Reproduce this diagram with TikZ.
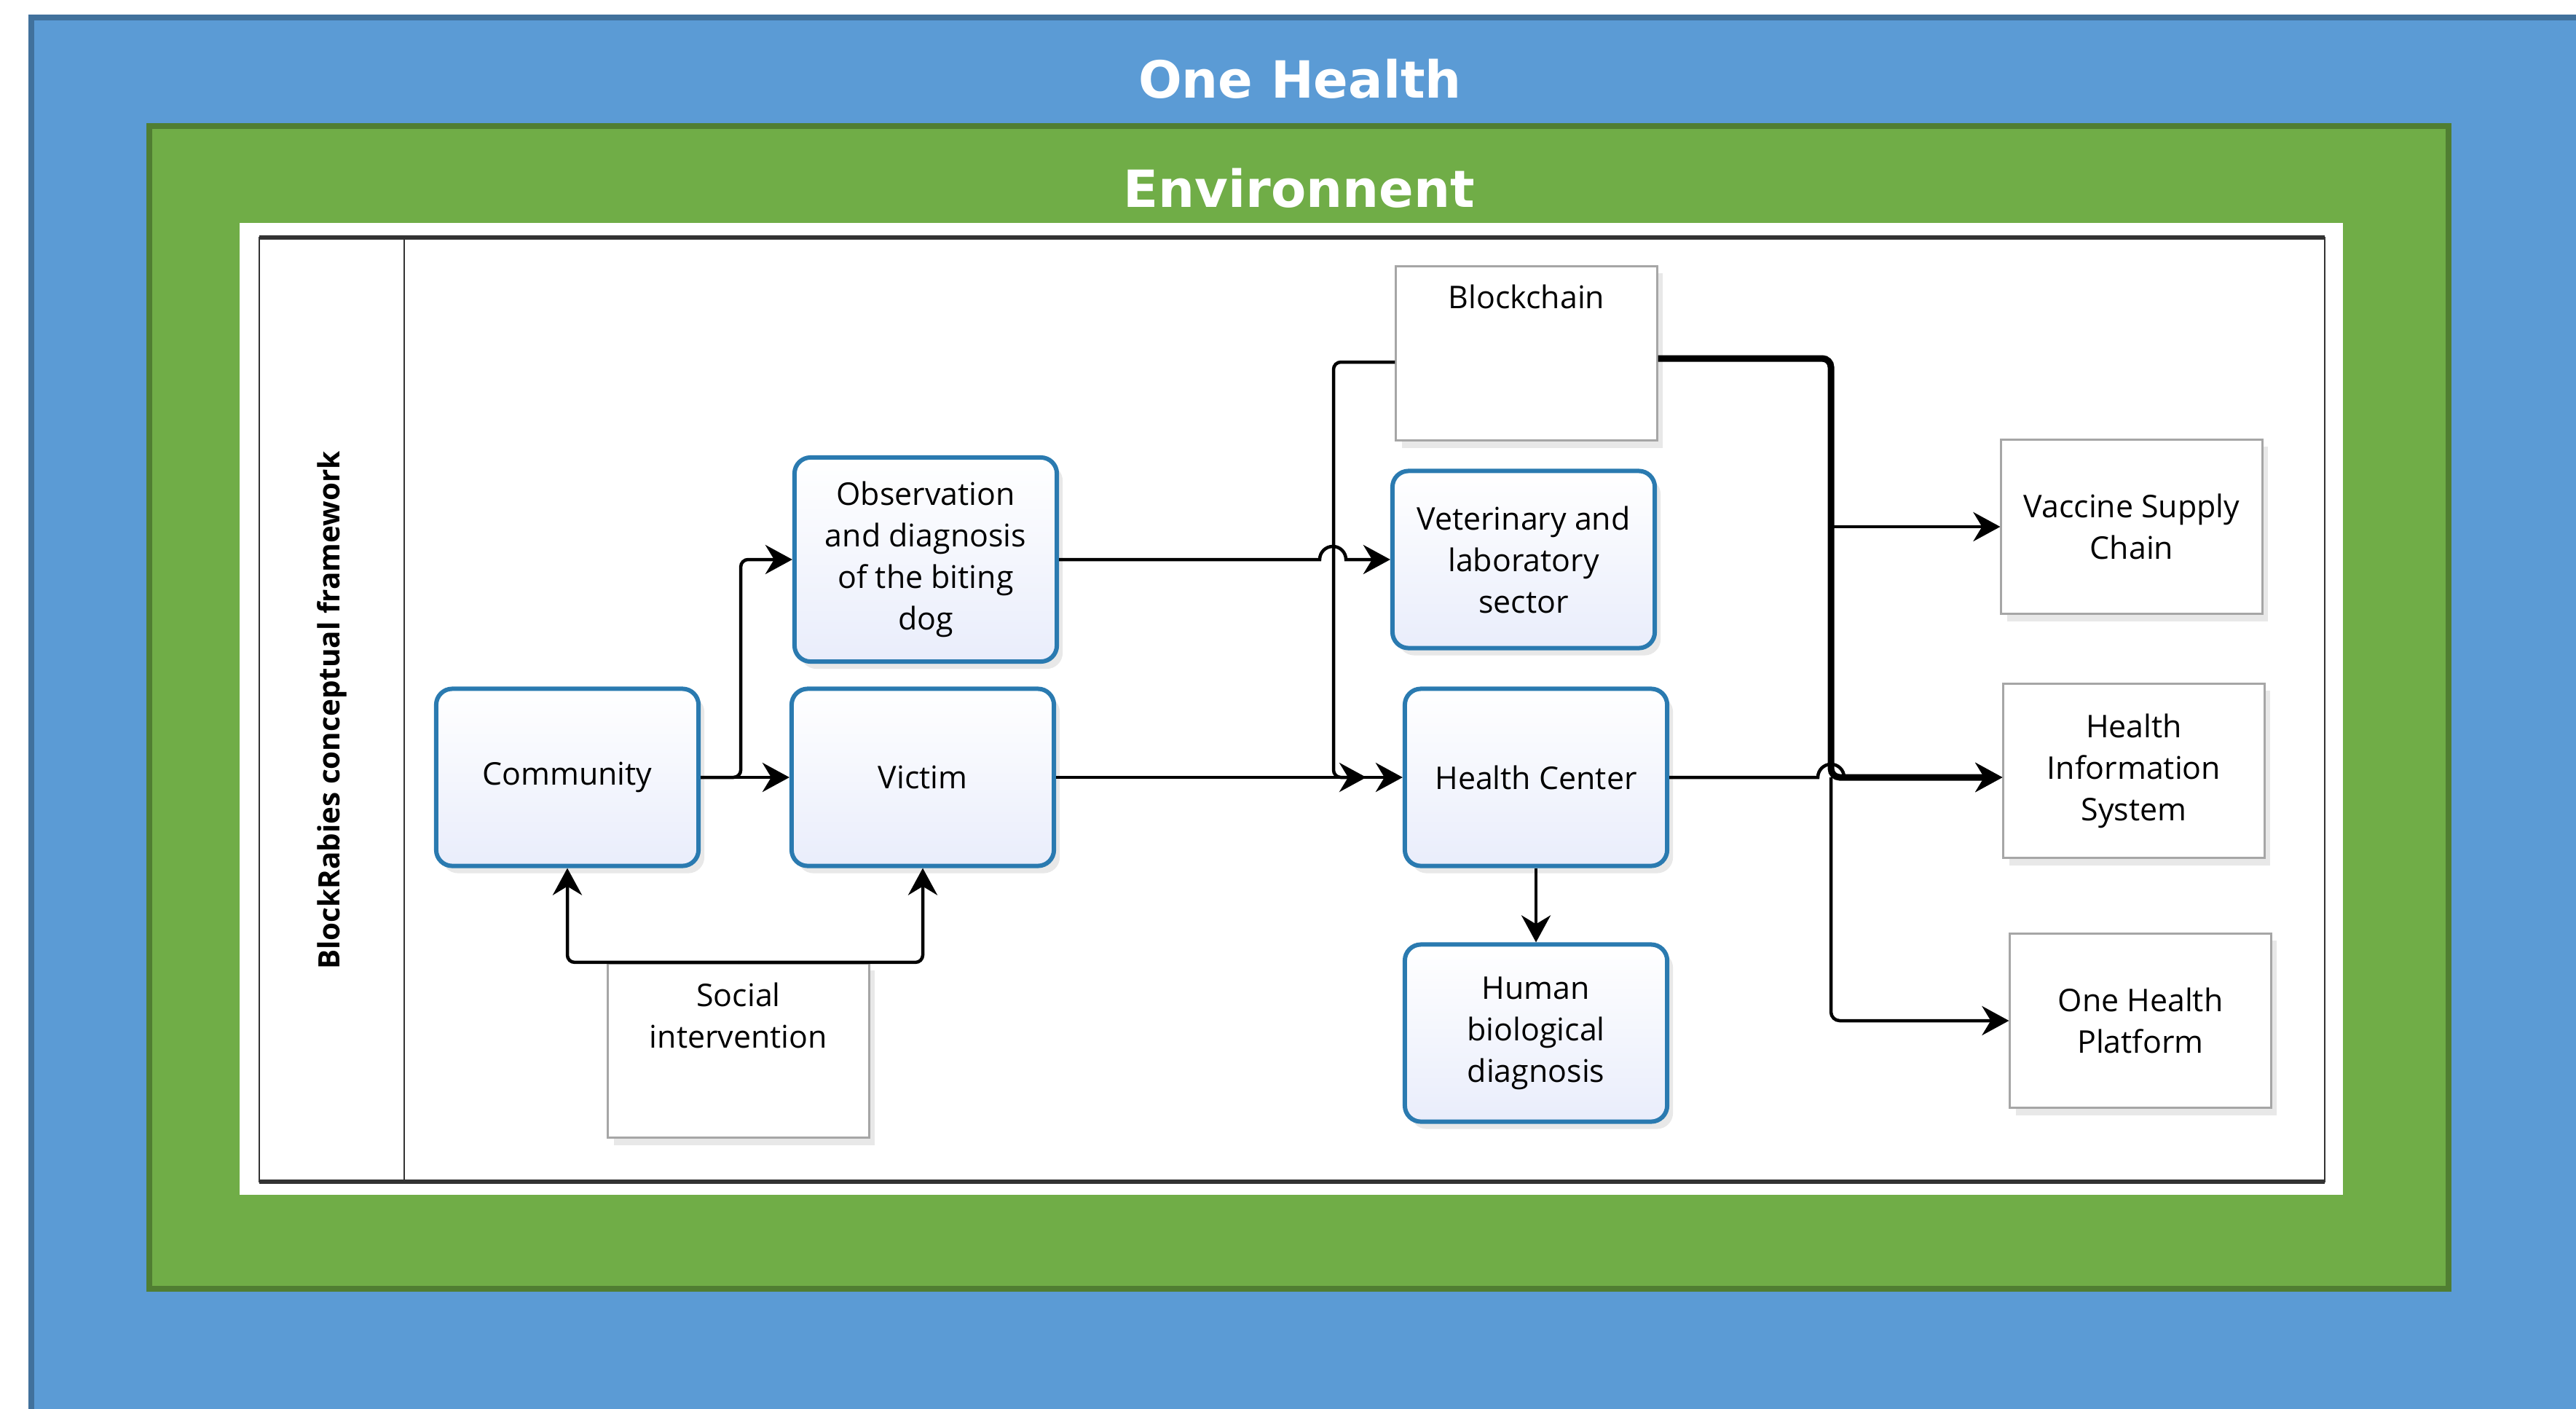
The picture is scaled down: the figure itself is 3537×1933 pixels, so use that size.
\documentclass[tikz,border=0pt]{standalone}
\usepackage{fontspec}
\setmainfont{Open Sans}
\newfontfamily\titre{DejaVu Sans}
\usetikzlibrary{arrows.meta,shadows}
\definecolor{bleufond}{HTML}{5B9BD5}
\definecolor{bordbleu}{HTML}{41719C}
\definecolor{vert}{HTML}{70AD47}
\definecolor{bordvert}{HTML}{507E32}
\definecolor{bordnoeud}{HTML}{2A7AB0}
\definecolor{lavande}{HTML}{E9EDFB}
\definecolor{gris}{HTML}{A6A6A6}
\definecolor{trait}{HTML}{333333}

\begin{document}
\begin{tikzpicture}[x=0.01cm,y=-0.01cm]
\tikzset{etape/.style={draw=bordnoeud, line width=0.06cm, rounded corners=0.22cm, top color=white, bottom color=lavande, minimum width=3.6cm, minimum height=2.43cm, align=center, font=\fontsize{12.2}{16.2}\selectfont, drop shadow={shadow xshift=0.08cm, shadow yshift=-0.1cm, opacity=0.18}},
boite/.style={draw=gris, line width=0.03cm, fill=white, minimum width=3.58cm, minimum height=2.39cm, align=center, font=\fontsize{12.2}{16.2}\selectfont, drop shadow={shadow xshift=0.08cm, shadow yshift=-0.1cm, opacity=0.18}},
texte/.style={align=center, inner sep=0pt, font=\fontsize{12.2}{16.2}\selectfont},
fleche/.style={line width=0.045cm, -{Stealth[length=0.37cm, width=0.4cm, inset=0.12cm]}},
grossefleche/.style={fleche, line width=0.09cm}}
\useasboundingbox (0,0) rectangle (3537,1933);
\clip (0,0) rectangle (3537,1933);
\draw[draw=bordbleu, fill=bleufond, line width=0.07cm] (43,24) rectangle (3600,2000);
\draw[draw=bordvert, fill=vert, line width=0.08cm] (205,173) rectangle (3362,1769);
\node[text=white, font=\titre\bfseries\fontsize{20}{24}\selectfont] (onehealth) at (1785,108) {One Health};
\node[text=white, font=\titre\bfseries\fontsize{20}{24}\selectfont] (environ) at (1784,258) {Environnent};
\fill[white] (329,306) rectangle (3217,1640);
\draw[trait, line width=0.025cm] (356,326) rectangle (3192,1622);
\draw[trait, line width=0.055cm] (356,326) -- (3192,326);
\draw[trait, line width=0.055cm] (356,1622) -- (3192,1622);
\draw[trait, line width=0.025cm] (555,326) -- (555,1622);
\node[rotate=90, font=\bfseries\fontsize{11.5}{14}\selectfont] (cadre) at (456,975) {BlockRabies conceptual framework};
\node[etape, minimum height=2.8cm] (obs) at (1271,768) {Observation\\and diagnosis\\of the biting\\dog};
\node[etape] (comm) at (779,1067) {Community};
\node[etape] (victim) at (1267,1067) {Victim};
\node[etape] (vet) at (2092,768) {Veterinary and\\laboratory\\sector};
\node[etape] (hc) at (2109,1067) {Health Center};
\node[etape] (hbd) at (2109,1418) {Human\\biological\\diagnosis};
\node[boite] (block) at (2096,485) {};
\node[texte] (blocktxt) at ([yshift=-0.43cm]block.north) {Blockchain};
\node[boite] (social) at (1014,1442) {};
\node[texte] (socialtxt) at ([yshift=-0.73cm]social.north) {Social\\intervention};
\node[boite] (vaccine) at (2927,723) {Vaccine Supply\\Chain};
\node[boite] (his) at (2930,1058) {Health\\Information\\System};
\node[boite] (ohp) at (2939,1401) {One Health\\Platform};
\coordinate (hcin) at (1876,1067);
\coordinate (bus) at (2514,1067);
\draw[fleche] (comm) -- (victim);
\draw[fleche, rounded corners=0.1cm] (comm.east) -- ++(55,0) |- (obs.west);
\draw[fleche, rounded corners=0.1cm] (social.north) -| (comm.south);
\draw[fleche, rounded corners=0.1cm] (social.north) -| (victim.south);
\draw[fleche] (obs.east) -- (1812,768) arc[start angle=180, end angle=0, radius=0.18cm] -- (vet.west);
\draw[fleche] (victim) -- (hc);
\draw[fleche, rounded corners=0.1cm] ([yshift=-0.12cm]block.west) -| (1831,1067) -- (hcin);
\draw[grossefleche, rounded corners=0.12cm] ([yshift=-0.07cm]block.east) -| (bus) -- (his.west |- bus);
\draw[fleche] (hc.east) -- (2496,1067) arc[start angle=180, end angle=0, radius=0.18cm] -- (his.west |- bus);
\draw[fleche] (vaccine.west -| bus) -- (vaccine.west);
\draw[fleche, rounded corners=0.12cm] (bus) |- (ohp.west);
\draw[fleche] (hc) -- (hbd);
\end{tikzpicture}
\end{document}
